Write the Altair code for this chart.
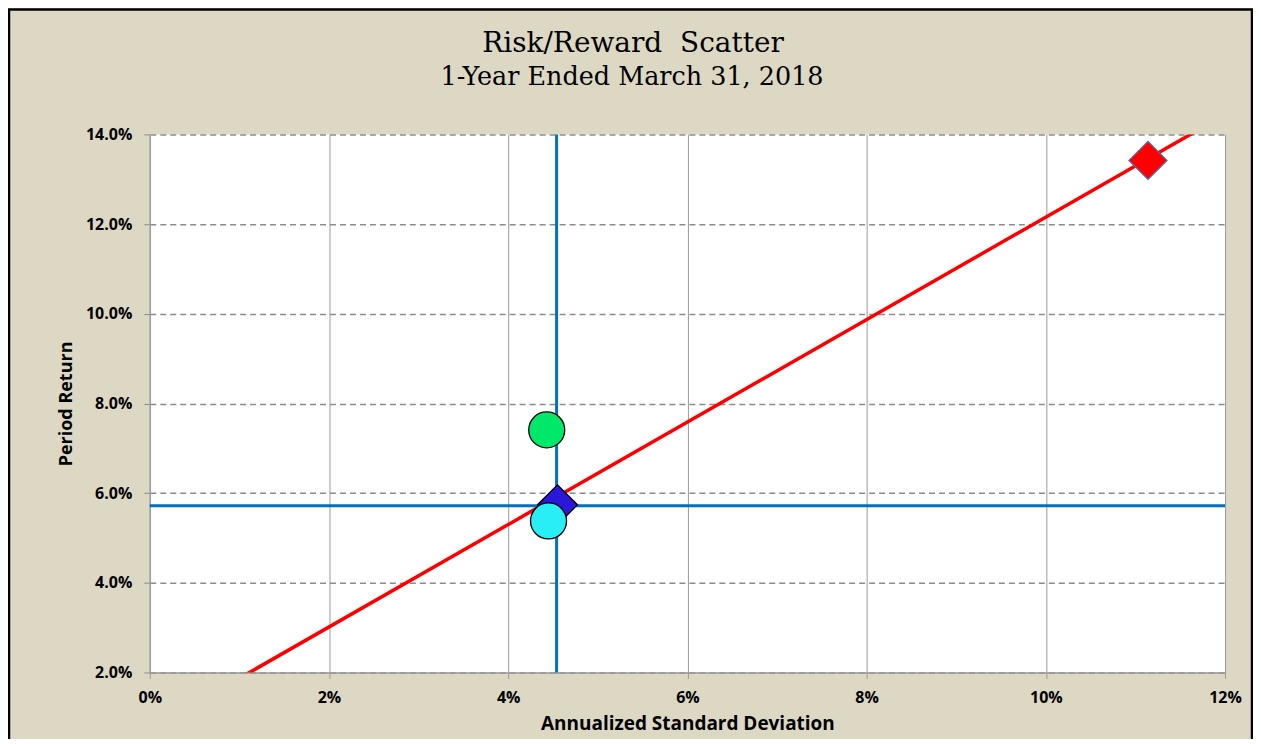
import altair as alt
import pandas as pd

# ---- data ----
names = ["Benchmark", "Fund C", "Fund B", "Fund A"]
risk = [0.0455, 0.0445, 0.0443, 0.1114]       # annualized standard deviation
ret = [0.0574, 0.0538, 0.0741, 0.1342]        # period return
shapes = ["diamond", "circle", "circle", "diamond"]
fills = ["#2B17DA", "#2AEEF6", "#00E86A", "#FF0000"]
strokes = ["#000000", "#000000", "#000000", "#4F6FA8"]
sizes = [1600, 1300, 1300, 1450]

bench_risk = 0.0454
bench_ret = 0.0572

# capital market line end points (passes through the red point)
cml_x = [0.0, 0.12]
cml_y = [0.0073, 0.1444]

x_ticks = [0.0, 0.02, 0.04, 0.06, 0.08, 0.10, 0.12]
y_ticks = [0.02, 0.04, 0.06, 0.08, 0.10, 0.12, 0.14]

title_text = "Risk/Reward\u00a0 Scatter"
subtitle_text = "1-Year Ended March 31, 2018"

pts = pd.DataFrame({"name": names, "risk": risk, "ret": ret,
                    "shape": shapes, "fill": fills, "stroke": strokes, "size": sizes})
cml = pd.DataFrame({"risk": cml_x, "ret": cml_y})
vline = pd.DataFrame({"risk": [bench_risk]})
hline = pd.DataFrame({"ret": [bench_ret]})

W, H = 1077, 539
PL, PT, PR, PB = 142, 126, 28, 66

xs = alt.Scale(domain=[0, 0.12], nice=False, zero=False)
ys = alt.Scale(domain=[0.02, 0.14], nice=False, zero=False)

LF = "Open Sans"
x_axis = alt.Axis(values=x_ticks, format=".0%", title="Annualized Standard Deviation",
                  grid=True, gridColor="#9a9a9a", gridWidth=1,
                  domainColor="#9a9a9a", domainWidth=1.5, labelFlush=False,
                  tickColor="#9a9a9a", tickSize=6, labelPadding=11,
                  labelFont=LF, labelFontWeight="bold", labelFontSize=16, labelColor="#000",
                  titleFont=LF, titleFontWeight="bold", titleFontSize=19, titleColor="#000",
                  titlePadding=9)
y_axis = alt.Axis(values=y_ticks, format=".1%", title="Period Return",
                  grid=True, gridColor="#8c8c8c", gridWidth=1.5, gridDash=[6, 4],
                  domainColor="#9a9a9a", domainWidth=1.5, labelFlush=False,
                  tickColor="#8c8c8c", tickSize=6, tickDash=[6, 4], labelPadding=12,
                  labelFont=LF, labelFontWeight="bold", labelFontSize=16, labelColor="#000",
                  titleFont=LF, titleFontWeight="bold", titleFontSize=18, titleColor="#000",
                  titlePadding=10)

base_x = alt.X("risk:Q", scale=xs, axis=x_axis)
base_y = alt.Y("ret:Q", scale=ys, axis=y_axis)

one = pd.DataFrame({"k": [0]})
frame = alt.Chart(one).mark_rect(
    fill=None, stroke="#000000", strokeWidth=2.5
).encode(x=alt.value(-141), x2=alt.value(W + PR - 1), y=alt.value(-125), y2=alt.value(H + PB + 10))

TF = "DejaVu Serif"
title = alt.Chart(one).mark_text(
    font=TF, fontSize=28, color="#000", baseline="alphabetic", align="center"
).encode(x=alt.value(634 - 150), y=alt.value(51 - 134), text=alt.value(title_text))
subtitle = alt.Chart(one).mark_text(
    font=TF, fontSize=25.5, color="#000", baseline="alphabetic", align="center"
).encode(x=alt.value(633 - 150), y=alt.value(85 - 134), text=alt.value(subtitle_text))

v = alt.Chart(vline).mark_rule(color="#0070C0", strokeWidth=3).encode(x=alt.X("risk:Q", scale=xs, axis=x_axis))
h = alt.Chart(hline).mark_rule(color="#0070C0", strokeWidth=3).encode(y=alt.Y("ret:Q", scale=ys, axis=y_axis))
line = alt.Chart(cml).mark_line(color="#FF0000", strokeWidth=3.5, clip=True).encode(x=base_x, y=base_y)
points = alt.Chart(pts).mark_point(filled=True, opacity=1, strokeWidth=1.3).encode(
    x=base_x, y=base_y,
    shape=alt.Shape("shape:N", scale=None),
    fill=alt.Fill("fill:N", scale=None),
    stroke=alt.Stroke("stroke:N", scale=None),
    size=alt.Size("size:Q", scale=None),
    tooltip=["name", "risk", "ret"],
)

chart = alt.layer(v, h, line, points, frame, title, subtitle).properties(
    width=W, height=H,
    autosize=alt.AutoSizeParams(type="none"),
    padding={"left": PL, "top": PT, "right": PR, "bottom": PB},
    background="#DDD8C4",
).configure_view(stroke=None, fill="#FFFFFF")

chart.save("out.html", embed_options={"renderer": "svg", "actions": False})
